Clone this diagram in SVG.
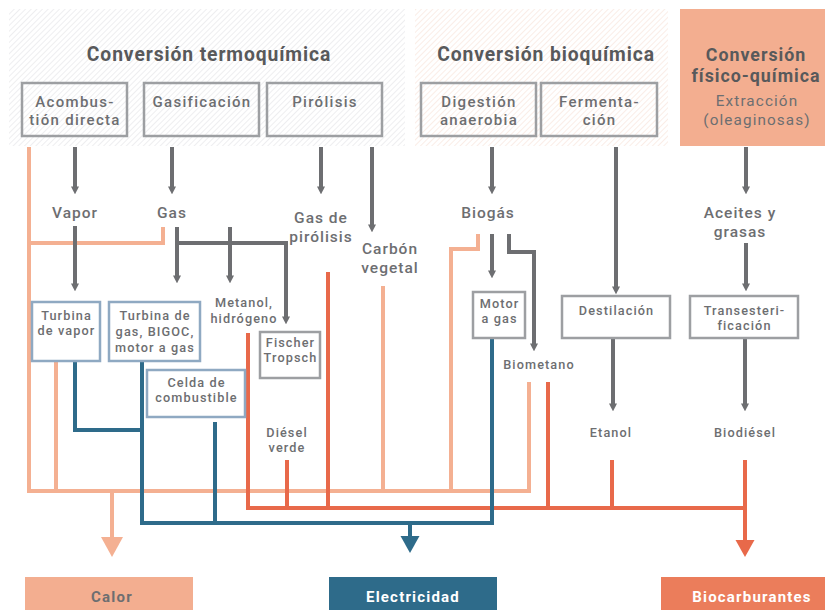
<svg xmlns="http://www.w3.org/2000/svg" width="825" height="610" viewBox="0 0 825 610">
  <defs>
    <pattern id="hatchGray" width="4" height="4" patternUnits="userSpaceOnUse" patternTransform="rotate(45)">
      <rect width="4" height="4" fill="#ffffff"/>
      <line x1="0" y1="0" x2="0" y2="4" stroke="#e4e4e6" stroke-width="1.2"/>
    </pattern>
    <pattern id="hatchPink" width="4" height="4" patternUnits="userSpaceOnUse" patternTransform="rotate(45)">
      <rect width="4" height="4" fill="#ffffff"/>
      <line x1="0" y1="0" x2="0" y2="4" stroke="#f8e1d8" stroke-width="1.2"/>
    </pattern>
    <marker id="arrowGray" viewBox="0 0 10 10" markerUnits="userSpaceOnUse" markerWidth="8" markerHeight="8" refX="2" refY="5" orient="auto">
      <path d="M0,0 L10,5 L0,10 z" fill="#6d6e71"/>
    </marker>
  </defs>
  <style>
    text { font-family: Roboto, "Liberation Sans", sans-serif; fill: #6d6e71; text-anchor: middle; }
    .title { font-size: 19.3px; font-weight: 700; fill: #58595b; letter-spacing: 0.9px; }
    .title2 { font-size: 17.8px; font-weight: 700; fill: #58595b; letter-spacing: 1px; }
    .hdr { font-size: 15px; font-weight: 500; letter-spacing: 1.3px; }
    .ext { font-size: 15.3px; font-weight: 400; letter-spacing: 1.1px; }
    .lbl { font-size: 15.5px; font-weight: 500; letter-spacing: 1px; }
    .sm { font-size: 12.7px; font-weight: 500; letter-spacing: 1.1px; }
    .out { font-size: 15px; font-weight: 700; letter-spacing: 1.2px; }
    .gbox { fill: #ffffff; stroke: #9d9fa2; stroke-width: 2.5; }
    .gboxT { fill: none; stroke: #9d9fa2; stroke-width: 2.5; }
    .bbox { fill: #ffffff; stroke: #8fa9c2; stroke-width: 2.5; }
    .ga { fill: none; stroke: #6d6e71; stroke-width: 4; marker-end: url(#arrowGray); }
    .gl { fill: none; stroke: #6d6e71; stroke-width: 4; }
    .heat { fill: none; stroke: #f4b092; stroke-width: 4; }
    .elec { fill: none; stroke: #2e6b8a; stroke-width: 4; }
    .fuel { fill: none; stroke: #e8694a; stroke-width: 4; }
  </style>

  <!-- process family panels -->
  <g id="panel-termoquimica">
    <rect x="9" y="9" width="396" height="137" fill="url(#hatchGray)"/>
    <text class="title" x="209" y="61">Conversión termoquímica</text>
  </g>
  <g id="panel-bioquimica">
    <rect x="415" y="9" width="253" height="137" fill="url(#hatchPink)"/>
    <text class="title" x="546" y="61">Conversión bioquímica</text>
  </g>
  <g id="panel-fisicoquimica">
    <rect x="680" y="9" width="145" height="137" fill="#f3ae90"/>
    <text class="title2"><tspan x="756" y="61">Conversión</tspan><tspan x="756" y="82">físico-química</tspan></text>
    <text class="ext"><tspan x="757" y="106">Extracción</tspan><tspan x="757" y="125">(oleaginosas)</tspan></text>
  </g>

  <!-- process boxes -->
  <g id="combustion">
    <rect class="gboxT" x="22" y="83" width="105" height="53"/>
    <text class="hdr"><tspan x="75" y="107">Acombus-</tspan><tspan x="75" y="125">tión directa</tspan></text>
  </g>
  <g id="gasificacion">
    <rect class="gboxT" x="144" y="83" width="115" height="53"/>
    <text class="hdr" x="202" y="107">Gasificación</text>
  </g>
  <g id="pirolisis">
    <rect class="gboxT" x="267" y="83" width="115" height="53"/>
    <text class="hdr" x="325" y="107">Pirólisis</text>
  </g>
  <g id="digestion">
    <rect class="gboxT" x="421" y="83" width="115" height="53"/>
    <text class="hdr"><tspan x="479" y="107">Digestión</tspan><tspan x="479" y="125">anaerobia</tspan></text>
  </g>
  <g id="fermentacion">
    <rect class="gboxT" x="541" y="83" width="116" height="53"/>
    <text class="hdr"><tspan x="599.5" y="107">Fermenta-</tspan><tspan x="599.5" y="125">ción</tspan></text>
  </g>

  <!-- connectors -->
  <g id="connectors">
    <!-- heat (light orange) -->
    <path class="heat" d="M29,147 V491 H529 V382"/>
    <path class="heat" d="M163,227 V243 H29"/>
    <path class="heat" d="M56,361 V491"/>
    <path class="heat" d="M383,286 V491"/>
    <path class="heat" d="M478,234 V249 H451 V491"/>
    <path class="heat" d="M112,491 V539"/>
    <polygon points="101,537 123,537 112,557" fill="#f4b092"/>

    <!-- biofuels (dark orange) -->
    <path class="fuel" d="M248,333 V508 H745"/>
    <path class="fuel" d="M287,460 V508"/>
    <path class="fuel" d="M328,272 V508"/>
    <path class="fuel" d="M548,382 V508"/>
    <path class="fuel" d="M612,460 V508"/>
    <path class="fuel" d="M745,460 V543"/>
    <polygon points="735.5,540 754.5,540 745,557" fill="#e8694a"/>

    <!-- electricity (blue) -->
    <path class="elec" d="M75,361 V430 H142"/>
    <path class="elec" d="M142,361 V523 H492 V338"/>
    <path class="elec" d="M215,422 V523"/>
    <path class="elec" d="M410,523 V538"/>
    <polygon points="400.5,536 419.5,536 410,553" fill="#2e6b8a"/>

    <!-- process flow (gray) -->
    <line class="ga" x1="75" y1="147" x2="75" y2="188"/>
    <line class="ga" x1="172" y1="147" x2="172" y2="188"/>
    <line class="ga" x1="321" y1="147" x2="321" y2="188"/>
    <line class="ga" x1="372" y1="147" x2="372" y2="226"/>
    <line class="ga" x1="492" y1="147" x2="492" y2="188"/>
    <line class="ga" x1="616" y1="147" x2="616" y2="288"/>
    <line class="ga" x1="746" y1="147" x2="746" y2="188"/>

    <line class="ga" x1="75" y1="226" x2="75" y2="285"/>
    <line class="ga" x1="177" y1="227" x2="177" y2="277"/>
    <line class="ga" x1="230" y1="227" x2="230" y2="277"/>
    <path class="gl" d="M177,243 H286"/>
    <line class="ga" x1="286" y1="241" x2="286" y2="318"/>

    <line class="ga" x1="492" y1="234" x2="492" y2="272"/>
    <path class="gl" d="M509,234 V252 H534"/>
    <line class="ga" x1="534" y1="250" x2="534" y2="345"/>

    <line class="ga" x1="746" y1="243" x2="746" y2="285"/>
    <line class="ga" x1="613" y1="338" x2="613" y2="405"/>
    <line class="ga" x1="745" y1="338" x2="745" y2="405"/>
  </g>

  <!-- intermediate products -->
  <g id="vapor"><text class="lbl" x="75" y="218">Vapor</text></g>
  <g id="gas"><text class="lbl" x="172" y="218">Gas</text></g>
  <g id="gas-pirolisis">
    <text class="lbl"><tspan x="321" y="223">Gas de</tspan><tspan x="321" y="242">pirólisis</tspan></text>
  </g>
  <g id="carbon-vegetal">
    <text class="lbl"><tspan x="390" y="254">Carbón</tspan><tspan x="390" y="273">vegetal</tspan></text>
  </g>
  <g id="biogas"><text class="lbl" x="488" y="218">Biogás</text></g>
  <g id="aceites">
    <text class="lbl"><tspan x="740" y="218">Aceites y</tspan><tspan x="740" y="237">grasas</tspan></text>
  </g>
  <g id="metanol">
    <text class="sm"><tspan x="244" y="307">Metanol,</tspan><tspan x="244" y="323">hidrógeno</tspan></text>
  </g>
  <g id="biometano"><text class="sm" x="539" y="369">Biometano</text></g>
  <g id="diesel-verde">
    <text class="sm"><tspan x="287" y="437">Diésel</tspan><tspan x="287" y="452">verde</tspan></text>
  </g>
  <g id="etanol"><text class="sm" x="611" y="437">Etanol</text></g>
  <g id="biodiesel"><text class="sm" x="745" y="437">Biodiésel</text></g>

  <!-- conversion equipment -->
  <g id="turbina-vapor">
    <rect class="bbox" x="32" y="302" width="68" height="59"/>
    <text class="sm"><tspan x="66.5" y="320">Turbina</tspan><tspan x="66.5" y="335">de vapor</tspan></text>
  </g>
  <g id="turbina-gas">
    <rect class="bbox" x="109" y="302" width="91" height="59"/>
    <text class="sm"><tspan x="155" y="320">Turbina de</tspan><tspan x="155" y="336">gas, BIGOC,</tspan><tspan x="155" y="352">motor a gas</tspan></text>
  </g>
  <g id="celda-combustible">
    <rect class="bbox" x="147" y="370" width="98" height="47"/>
    <text class="sm"><tspan x="196.5" y="387">Celda de</tspan><tspan x="196.5" y="402">combustible</tspan></text>
  </g>
  <g id="fischer-tropsch">
    <rect class="gbox" x="260" y="332" width="60" height="46"/>
    <text class="sm"><tspan x="290.5" y="347">Fischer</tspan><tspan x="290.5" y="362">Tropsch</tspan></text>
  </g>
  <g id="motor-gas">
    <rect class="gbox" x="473" y="292" width="52" height="46"/>
    <text class="sm"><tspan x="499.5" y="308">Motor</tspan><tspan x="499.5" y="323">a gas</tspan></text>
  </g>
  <g id="destilacion">
    <rect class="gbox" x="562" y="296" width="108" height="42"/>
    <text class="sm" x="616.5" y="315">Destilación</text>
  </g>
  <g id="transesterificacion">
    <rect class="gbox" x="690" y="296" width="108" height="42"/>
    <text class="sm"><tspan x="744.5" y="315">Transesteri-</tspan><tspan x="744.5" y="330">ficación</tspan></text>
  </g>

  <!-- end uses -->
  <g id="calor">
    <rect x="25" y="577" width="168" height="33" fill="#f3ae90"/>
    <text class="out" x="112" y="602">Calor</text>
  </g>
  <g id="electricidad">
    <rect x="329" y="577" width="168" height="33" fill="#2e6b8a"/>
    <text class="out" x="413" y="602" style="fill:#ffffff">Electricidad</text>
  </g>
  <g id="biocarburantes">
    <rect x="661" y="577" width="164" height="33" fill="#eb7d5b"/>
    <text class="out" x="752" y="602" style="fill:#ffffff">Biocarburantes</text>
  </g>
</svg>
